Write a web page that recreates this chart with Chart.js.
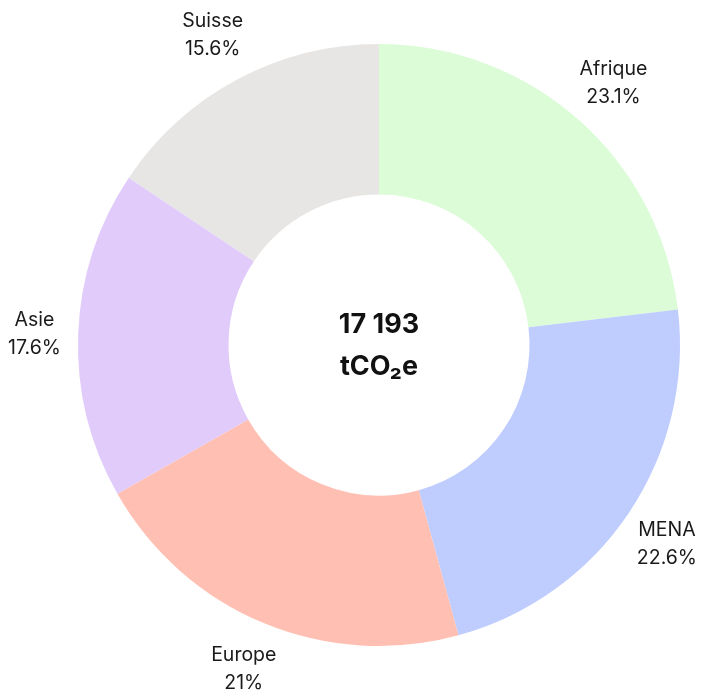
<!DOCTYPE html>
<html>
<head>
<meta charset="utf-8">
<script src="https://cdn.jsdelivr.net/npm/chart.js@4"></script>
<style>
  html, body { margin: 0; padding: 0; background: #fff; }
  #wrap { width: 705px; height: 693px; }
</style>
</head>
<body>
<div id="wrap"><canvas id="donut"></canvas></div>
<script>
const regions = ['Afrique', 'MENA', 'Europe', 'Asie', 'Suisse'];
const shares = [23.1, 22.6, 21, 17.6, 15.6];
const colors = ['#dcfcd8', '#bfcdfe', '#ffbfb3', '#e0cbfa', '#e8e6e4'];
const totalLines = ['17 193', 'tCO\u2082e'];

const fontFamily = 'Inter, "Noto Sans", sans-serif';

const outsideLabels = {
  id: 'outsideLabels',
  afterDraw(chart) {
    const ctx = chart.ctx;
    const meta = chart.getDatasetMeta(0);
    ctx.save();
    ctx.font = '19.5px ' + fontFamily;
    ctx.fillStyle = '#1a1a1a';
    ctx.textAlign = 'center';
    ctx.textBaseline = 'middle';
    meta.data.forEach((arc, i) => {
      const p = arc.getProps(['x', 'y', 'startAngle', 'endAngle', 'outerRadius'], true);
      const mid = (p.startAngle + p.endAngle) / 2;
      const r = p.outerRadius + 52;
      let x = p.x + Math.cos(mid) * r;
      let y = p.y + Math.sin(mid) * r + 2;
      const lines = [regions[i], shares[i] + '%'];
      const w = Math.max(...lines.map(t => ctx.measureText(t).width));
      x = Math.max(w / 2 + 8, Math.min(chart.width - w / 2 - 8, x));
      y = Math.min(chart.height - 24, y);
      ctx.fillText(lines[0], x, y - 14);
      ctx.fillText(lines[1], x, y + 14);
    });
    // centre total
    const c = meta.data[0];
    ctx.font = 'bold 27px ' + fontFamily;
    ctx.fillStyle = '#111';
    ctx.fillText(totalLines[0], c.x, c.y - 20);
    ctx.fillText(totalLines[1], c.x, c.y + 22);
    ctx.restore();
  }
};

new Chart(document.getElementById('donut').getContext('2d'), {
  type: 'doughnut',
  data: {
    labels: regions,
    datasets: [{
      data: shares,
      backgroundColor: colors,
      borderWidth: 0,
      hoverOffset: 0
    }]
  },
  options: {
    responsive: true,
    maintainAspectRatio: false,
    animation: false,
    cutout: '50%',
    layout: { padding: { top: 44, bottom: 47, left: 78, right: 25 } },
    plugins: {
      legend: { display: false },
      tooltip: { enabled: false }
    }
  },
  plugins: [outsideLabels]
});
</script>
</body>
</html>
